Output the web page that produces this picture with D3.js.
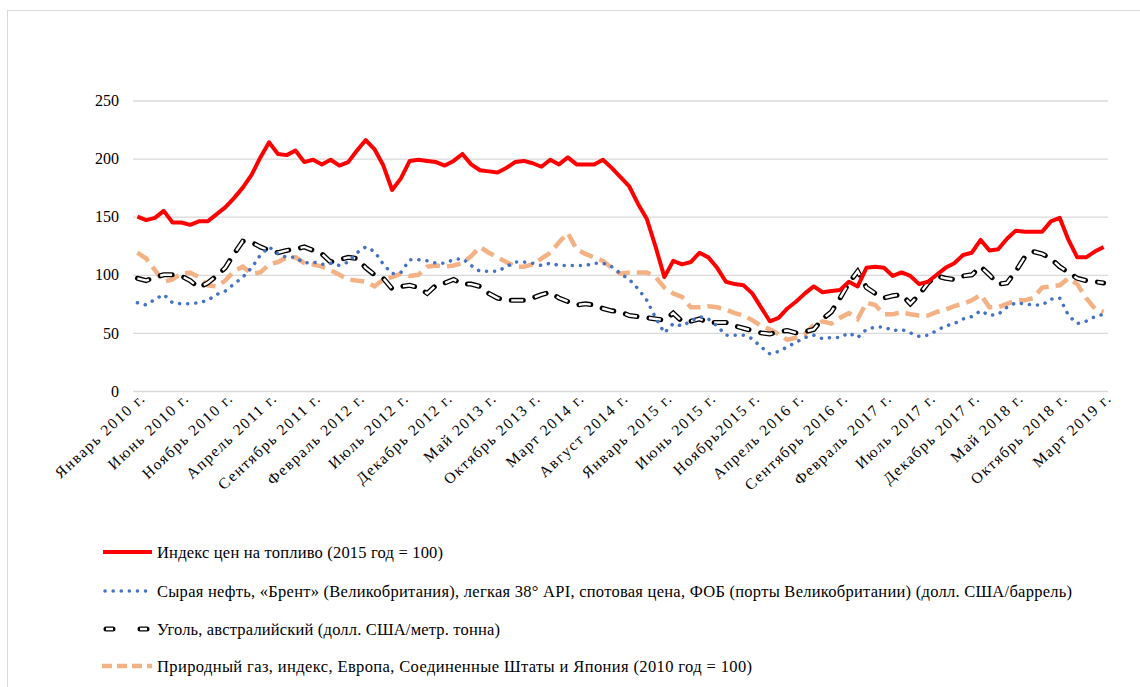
<!DOCTYPE html>
<html lang="ru">
<head>
<meta charset="utf-8">
<title>Цены на топливо</title>
<script src="https://cdn.jsdelivr.net/npm/d3@7"></script>
<style>
  body { margin: 0; background: #fff; }
  svg text { font-family: "Liberation Serif", "Times New Roman", serif; fill: #000; }
</style>
</head>
<body>
<svg id="chart" width="1140" height="687"></svg>
<script>
// month labels shown on the axis (every 5th month, Jan 2010 .. Mar 2019)
var tickLabels = ["Январь 2010 г.", "Июнь 2010 г.", "Ноябрь 2010 г.", "Апрель 2011 г.",
  "Сентябрь 2011 г.", "Февраль 2012 г.", "Июль 2012 г.", "Декабрь 2012 г.", "Май 2013 г.",
  "Октябрь 2013 г.", "Март 2014 г.", "Август 2014 г.", "Январь 2015 г.", "Июнь 2015 г.",
  "Ноябрь2015 г.", "Апрель 2016 г.", "Сентябрь 2016 г.", "Февраль 2017 г.", "Июль 2017 г.",
  "Декабрь 2017 г.", "Май 2018 г.", "Октябрь 2018 г.", "Март 2019 г."];

var yTicks = [0, 50, 100, 150, 200, 250];

// fuel price index (2015 = 100), monthly
var fuelIndex = [150, 147, 149, 155, 145, 145, 143, 146, 146, 152, 158, 166,
  175, 186, 201, 214, 204, 203, 207, 197, 199, 195, 199, 194,
  197, 207, 216, 208, 194, 173, 183, 198, 199, 198, 197, 194,
  198, 204, 195, 190, 189, 188, 192, 197, 198, 196, 193, 199,
  195, 201, 195, 195, 195, 199, 192, 184, 176, 161, 148, 124,
  98, 112, 109, 111, 119, 115, 106, 94, 92, 91, 84, 72,
  60, 63, 71, 77, 84, 90, 85, 86, 87, 94, 90, 106,
  107, 106, 99, 102, 99, 92, 94, 100, 106, 110, 117, 119,
  130, 121, 122, 131, 138, 137, 137, 137, 146, 149, 130, 115,
  115, 120, 124];

// Brent crude, USD/barrel
var brent = [76, 74, 79, 83, 76, 75, 75, 76, 78, 83, 86, 92,
  98, 106, 117, 124, 118, 115, 115, 110, 111, 109, 110, 108,
  111, 119, 124, 120, 109, 101, 102, 113, 113, 112, 110, 110,
  113, 114, 108, 103, 103, 103, 107, 111, 111, 110, 108, 110,
  108, 108, 108, 108, 110, 110, 107, 101, 96, 88, 78, 63,
  50, 58, 56, 60, 64, 62, 56, 48, 48, 48, 45, 38,
  32, 34, 38, 42, 46, 48, 45, 46, 46, 50, 46, 53,
  55, 55, 52, 53, 50, 47, 48, 52, 56, 58, 62, 64,
  69, 65, 66, 72, 76, 75, 74, 74, 79, 80, 65, 58,
  60, 64, 66];

// Australian coal, USD/metric ton
var coal = [97, 95, 98, 100, 100, 99, 95, 89, 93, 99, 106, 118,
  129, 128, 124, 121, 119, 121, 122, 124, 121, 118, 111, 113,
  115, 114, 106, 100, 97, 88, 90, 91, 89, 84, 91, 93,
  96, 92, 92, 90, 84, 80, 78, 78, 78, 80, 83, 85,
  80, 77, 74, 75, 74, 71, 69, 68, 65, 64, 63, 62,
  61, 67, 60, 60, 62, 59, 59, 59, 56, 54, 52, 50,
  49, 51, 52, 50, 51, 53, 62, 68, 80, 93, 103, 89,
  84, 80, 82, 83, 75, 83, 93, 99, 97, 96, 99, 100,
  107, 100, 92, 93, 103, 115, 120, 118, 114, 107, 102, 97,
  95, 94, 93];

// natural gas index (2010 = 100)
var gas = [119, 114, 104, 94, 96, 101, 102, 98, 91, 90, 95, 103,
  107, 101, 102, 109, 111, 115, 115, 110, 109, 107, 104, 100,
  96, 95, 94, 90, 96, 98, 101, 99, 100, 107, 108, 107,
  108, 110, 116, 124, 119, 115, 111, 107, 107, 109, 114, 119,
  128, 136, 122, 118, 115, 112, 106, 101, 102, 102, 102, 98,
  89, 84, 81, 72, 72, 73, 72, 70, 67, 65, 61, 56,
  53, 49, 44, 46, 49, 57, 60, 58, 63, 67, 62, 76,
  74, 66, 66, 68, 66, 65, 65, 68, 70, 73, 75, 78,
  83, 72, 72, 75, 78, 78, 80, 89, 90, 91, 97, 92,
  80, 71, 68];

var legendLabels = [
  "Индекс цен на топливо (2015 год = 100)",
  "Сырая нефть, «Брент» (Великобритания), легкая 38° API, спотовая цена, ФОБ (порты Великобритании) (долл. США/баррель)",
  "Уголь, австралийский (долл. США/метр. тонна)",
  "Природный газ, индекс, Европа, Соединенные Штаты и Япония (2010 год = 100)"];

var svg = d3.select("#chart");

// outer frame
svg.append("rect")
  .attr("x", 7.5).attr("y", 10.5)
  .attr("width", 1160).attr("height", 700)
  .attr("fill", "none").attr("stroke", "#d9d9d9");

var plotLeft = 133, plotRight = 1108, plotTop = 100.5, plotBottom = 391;
var months = d3.range(fuelIndex.length);

var x = d3.scaleBand().domain(months).range([plotLeft, plotRight]);
var cx = function(i) { return x(i) + x.bandwidth() / 2; };
var y = d3.scaleLinear().domain([0, 250]).range([plotBottom, plotTop]);

// horizontal gridlines + y labels
var yAxis = d3.axisLeft(y).tickValues(yTicks).tickSize(-(plotRight - plotLeft)).tickPadding(14);
var gy = svg.append("g").attr("transform", "translate(" + plotLeft + ",0)").call(yAxis);
gy.select(".domain").remove();
gy.selectAll(".tick line").attr("stroke", "#d9d9d9").attr("stroke-width", 1.3);
gy.selectAll(".tick text").attr("font-size", 16).attr("font-family", "Liberation Serif");

// x labels, rotated
var xAxis = d3.axisBottom(x)
  .tickValues(months.filter(function(i) { return i % 5 === 0; }))
  .tickFormat(function(i) { return tickLabels[i / 5]; })
  .tickSize(0);
var gx = svg.append("g").attr("transform", "translate(0," + plotBottom + ")").call(xAxis);
gx.select(".domain").remove();
gx.selectAll(".tick text")
  .attr("font-size", 15.5).attr("font-family", "Liberation Serif")
  .attr("letter-spacing", 1.6)
  .attr("text-anchor", "end")
  .attr("dy", 0)
  .attr("transform", "translate(7,6) rotate(-43)");

// line generator shared by all series
var line = d3.line().x(function(d, i) { return cx(i); }).y(function(d) { return y(d); });

// gas: light orange dashes
svg.append("path").datum(gas).attr("d", line)
  .attr("fill", "none").attr("stroke", "#f4b183").attr("stroke-width", 4.5)
  .attr("stroke-dasharray", "14 7");

// coal: double-outline long dashes (black outside, white inside)
svg.append("path").datum(coal).attr("d", line)
  .attr("fill", "none").attr("stroke", "#000").attr("stroke-width", 5)
  .attr("stroke-linecap", "round").attr("stroke-dasharray", "12 12");
svg.append("path").datum(coal).attr("d", line)
  .attr("fill", "none").attr("stroke", "#fff").attr("stroke-width", 2.4)
  .attr("stroke-dasharray", "12 12");

// brent: blue round dots
svg.append("path").datum(brent).attr("d", line)
  .attr("fill", "none").attr("stroke", "#4472c4").attr("stroke-width", 3.5)
  .attr("stroke-linecap", "round").attr("stroke-dasharray", "0.1 8");

// fuel index: red solid
svg.append("path").datum(fuelIndex).attr("d", line)
  .attr("fill", "none").attr("stroke", "#ff0000").attr("stroke-width", 4)
  .attr("stroke-linejoin", "round");

// legend
var legY = [552, 591, 629, 666];
var legW = [286, 915, 343, 595];
var leg = svg.append("g");
legendLabels.forEach(function(lbl, k) {
  var g = leg.append("g").attr("transform", "translate(0," + legY[k] + ")");
  if (k === 0) {
    g.append("line").attr("x1", 103).attr("x2", 152)
      .attr("stroke", "#ff0000").attr("stroke-width", 4);
  } else if (k === 1) {
    g.append("line").attr("x1", 105).attr("x2", 152)
      .attr("stroke", "#4472c4").attr("stroke-width", 3.5)
      .attr("stroke-linecap", "round").attr("stroke-dasharray", "0.1 8");
  } else if (k === 2) {
    g.append("line").attr("x1", 106).attr("x2", 150)
      .attr("stroke", "#000").attr("stroke-width", 5)
      .attr("stroke-linecap", "round").attr("stroke-dasharray", "7 27");
    g.append("line").attr("x1", 106).attr("x2", 150)
      .attr("stroke", "#fff").attr("stroke-width", 2.4)
      .attr("stroke-dasharray", "7 27");
  } else {
    g.append("line").attr("x1", 102).attr("x2", 152)
      .attr("stroke", "#f4b183").attr("stroke-width", 4.5)
      .attr("stroke-dasharray", "10 5");
  }
  g.append("text").attr("x", 157).attr("dy", "0.35em")
    .attr("font-size", 16.5)
    .attr("textLength", legW[k]).attr("lengthAdjust", "spacing")
    .text(lbl);
});
</script>
</body>
</html>
